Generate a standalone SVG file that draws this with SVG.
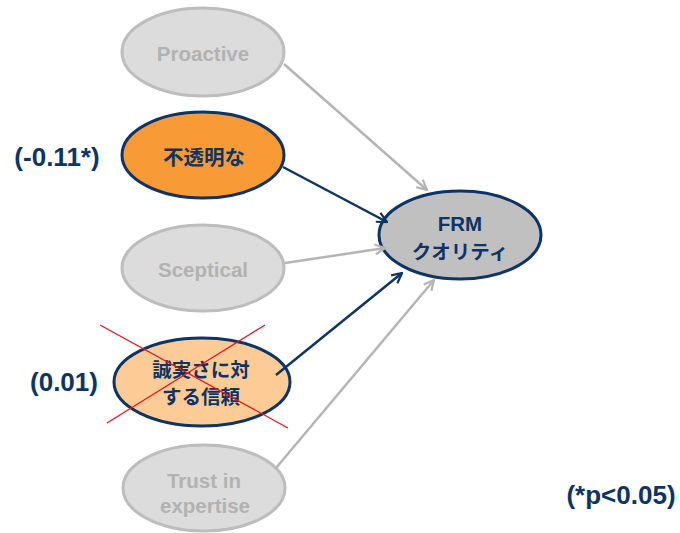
<svg xmlns="http://www.w3.org/2000/svg" width="680" height="533" viewBox="0 0 680 533">
<defs>
<style>
text{font-family:"Liberation Sans","Noto Sans CJK JP",sans-serif;font-weight:bold;text-anchor:middle;dominant-baseline:central}
.g ellipse{fill:#dcdcdc;stroke:#bdbdbd;stroke-width:3}
.g text{fill:#b2b2b2;font-size:20.5px}
.n text{fill:#0d3464;font-size:19.5px}
.n ellipse{stroke:#0d3464;stroke-width:3}
.lab{fill:#0d3464;font-size:26px}
.cg{stroke:#b5b5b5;stroke-width:2.5;fill:none}
.cn{stroke:#0d3464;stroke-width:2.5;fill:none}
</style>
<marker id="ag" viewBox="0 0 12 12" refX="11" refY="6" markerWidth="12" markerHeight="12" markerUnits="userSpaceOnUse" orient="auto"><path d="M1,1 L11,6 L1,11" fill="none" stroke="#b5b5b5" stroke-width="2.2"/></marker>
<marker id="an" viewBox="0 0 12 12" refX="11" refY="6" markerWidth="12" markerHeight="12" markerUnits="userSpaceOnUse" orient="auto"><path d="M1,1 L11,6 L1,11" fill="none" stroke="#0d3464" stroke-width="2.2"/></marker>
</defs>
<g id="proactive" class="g"><ellipse cx="203" cy="52" rx="81" ry="44"/><text x="203" y="53">Proactive</text></g>
<g id="opaque" class="n"><ellipse cx="203" cy="155" rx="81" ry="43" fill="#f89a35"/><text x="204" y="157" style="font-size:20.5px">不透明な</text></g>
<g id="sceptical" class="g"><ellipse cx="203" cy="268" rx="81" ry="43"/><text x="203" y="269">Sceptical</text></g>
<g id="integrity" class="n"><ellipse cx="202" cy="382" rx="88" ry="44" fill="#fdcb96"/><text x="201" y="370">誠実さに対</text><text x="201" y="397">する信頼</text></g>
<g id="expertise" class="g"><ellipse cx="204" cy="488" rx="81" ry="43"/><text x="204" y="480">Trust in</text><text x="205" y="505">expertise</text></g>
<g id="frm" class="n"><ellipse cx="460" cy="235" rx="81" ry="44" fill="#c0c0c0"/><text x="460" y="223" style="font-size:20.5px">FRM</text><text x="460" y="252">クオリティ</text></g>
<g id="connectors">
<line class="cg" x1="284" y1="64" x2="427" y2="190" marker-end="url(#ag)"/>
<line class="cn" x1="283" y1="167" x2="387" y2="222" marker-end="url(#an)"/>
<line class="cg" x1="285" y1="263" x2="385" y2="248" marker-end="url(#ag)"/>
<line class="cn" x1="276" y1="375" x2="402" y2="273" marker-end="url(#an)"/>
<line class="cg" x1="276" y1="468" x2="434" y2="280" marker-end="url(#ag)"/>
</g>
<g id="cross"><line x1="100" y1="325" x2="288" y2="428" stroke="#e8141e" stroke-width="1.3"/><line x1="265" y1="325" x2="107" y2="423" stroke="#e8141e" stroke-width="1.3"/></g>
<text class="lab" x="57" y="157">(-0.11*)</text>
<text class="lab" x="64" y="382">(0.01)</text>
<text class="lab" x="621" y="495">(*p&lt;0.05)</text>
</svg>
